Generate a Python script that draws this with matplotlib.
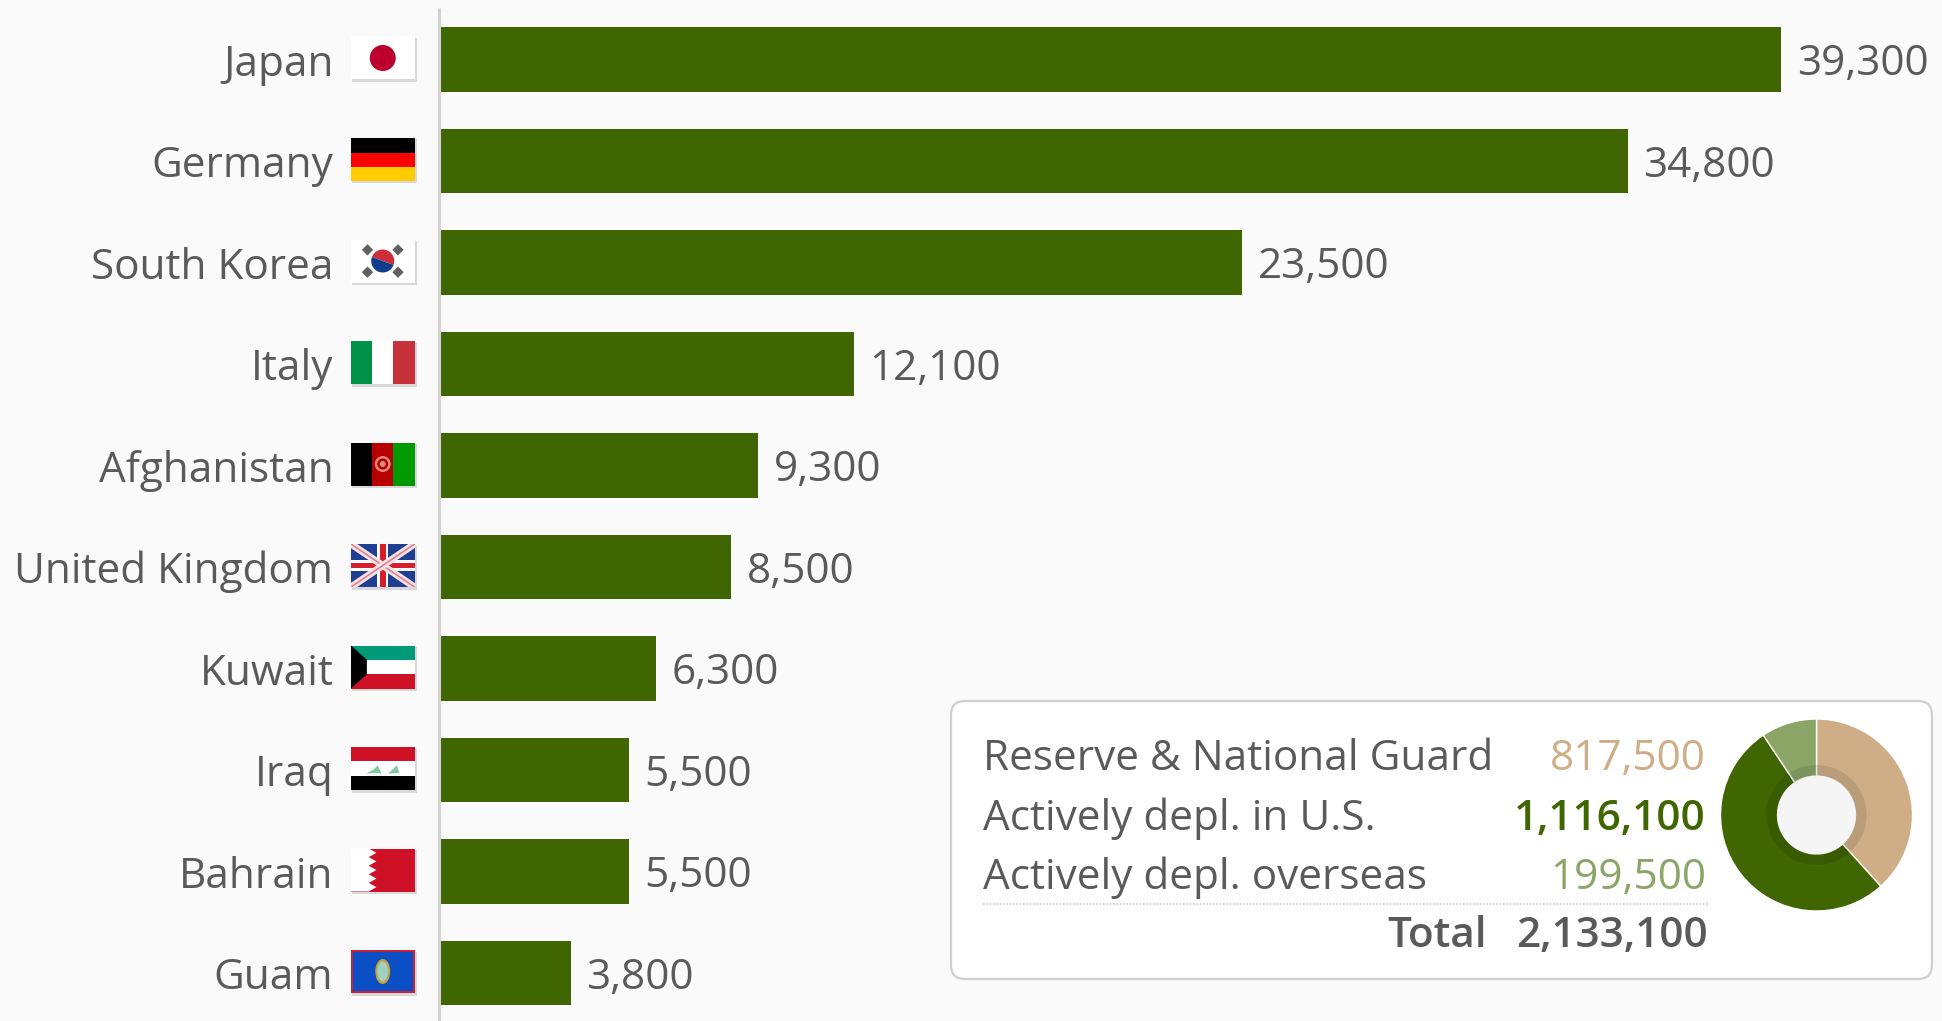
import matplotlib
matplotlib.use("Agg")
from matplotlib import pyplot as plt
from matplotlib.patches import Rectangle, Polygon, Circle, Ellipse, FancyBboxPatch, Wedge

countries = ["Japan", "Germany", "South Korea", "Italy", "Afghanistan",
             "United Kingdom", "Kuwait", "Iraq", "Bahrain", "Guam"]
troops = [39300, 34800, 23500, 12100, 9300, 8500, 6300, 5500, 5500, 3800]

summary_labels = ["Reserve & National Guard", "Actively depl. in U.S.", "Actively depl. overseas"]
summary_values = [817500, 1116100, 199500]
summary_colors = ["#cfae87", "#3f6600", "#8aa566"]
total_label = "Total"
total_value = 2133100

W, H = 1942, 1021
BG = "#fafafa"
GREEN = "#3f6600"
TEXT = "#5a5a5a"
FS = 30.4

plt.rcParams["font.family"] = ["Open Sans", "DejaVu Sans"]

fig = plt.figure(figsize=(W / 100, H / 100), dpi=100, facecolor=BG)

# bars: pixels per soldier and row pitch
left = 441
px_per = 1340 / 39300
pitch = 101.5
first = 59.5
ax = fig.add_axes([left / W, 0, 1 - left / W, 1])
ax.set_facecolor("none")
ypos = list(range(len(countries)))
ax.barh(ypos, troops, height=64.5 / pitch, color=GREEN)
ax.set_xlim(0, (W - left) / px_per)
ax.set_ylim((H - first) / pitch, -first / pitch)
ax.set_xticks([])
ax.set_yticks(ypos, countries)
ax.tick_params(axis="y", length=0, pad=77.5, labelsize=FS, labelcolor=TEXT)
for s in ax.spines.values():
    s.set_visible(False)
for y, v in zip(ypos, troops):
    ax.annotate(f"{v:,}", (v, y), xytext=(11.5, -3.5), textcoords="offset points",
                va="center", ha="left", fontsize=FS, color=TEXT, annotation_clip=False)

# overlay in pixel coordinates for the axis line, flags and the box
ov = fig.add_axes([0, 0, 1, 1])
ov.set_xlim(0, W)
ov.set_ylim(H, 0)
ov.axis("off")
ov.plot([439, 439], [8, H], color="#d2d2d2", lw=2.2, solid_capstyle="butt")


def flag_tools(i):
    x0, y0 = 351, first + pitch * i - 23
    w, h = 63.5, 43
    ov.add_patch(Rectangle((x0 + 1, y0 + 1.5), w + 1, h + 1, color="#d8d8d8", lw=0))

    def rect(u0, v0, u1, v1, c):
        p = Rectangle((x0 + u0 * w, y0 + v0 * h), (u1 - u0) * w, (v1 - v0) * h, color=c, lw=0)
        ov.add_patch(p)
        return p

    def poly(pts, c):
        p = Polygon([(x0 + u * w, y0 + v * h) for u, v in pts], closed=True, color=c, lw=0)
        ov.add_patch(p)
        return p

    def dot(u, v, r, c):
        p = Circle((x0 + u * w, y0 + v * h), r, color=c, lw=0)
        ov.add_patch(p)
        return p

    return rect, poly, dot, (x0, y0, w, h)


# Japan
rect, poly, dot, _ = flag_tools(0)
rect(0, 0, 1, 1, "white")
dot(.5, .5, 13, "#bc002d")

# Germany
rect, poly, dot, _ = flag_tools(1)
rect(0, 0, 1, .34, "black")
rect(0, .34, 1, .67, "#ff0000")
rect(0, .67, 1, 1, "#ffcc00")

# South Korea
rect, poly, dot, box = flag_tools(2)
rect(0, 0, 1, 1, "white")
x0, y0, w, h = box
cx, cy = x0 + w / 2, y0 + h / 2
ov.add_patch(Wedge((cx, cy), 11.5, 200, 20, color="#cd2e3a", lw=0))
ov.add_patch(Wedge((cx, cy), 11.5, 20, 200, color="#0f3f8c", lw=0))
for u, v in [(.26, .24), (.74, .24), (.26, .76), (.74, .76)]:
    px = (x0 + u * w, y0 + v * h)
    ov.add_patch(Rectangle((px[0] - 4, px[1] - 4), 8, 8, angle=45,
                           rotation_point="center", color="#606060", lw=0))

# Italy
rect, poly, dot, _ = flag_tools(3)
rect(0, 0, 1 / 3, 1, "#009246")
rect(1 / 3, 0, 2 / 3, 1, "white")
rect(2 / 3, 0, 1, 1, "#c8303a")

# Afghanistan
rect, poly, dot, _ = flag_tools(4)
rect(0, 0, 1 / 3, 1, "black")
rect(1 / 3, 0, 2 / 3, 1, "#b90000")
rect(2 / 3, 0, 1, 1, "#009900")
dot(.5, .5, 8, "#d98a7c")
dot(.5, .5, 5.5, "#b90000")
dot(.5, .5, 3, "#d98a7c")

# United Kingdom
rect, poly, dot, box = flag_tools(5)
bg = rect(0, 0, 1, 1, "#1f3f93")
x0, y0, w, h = box
for a, b in [((0, 0), (1, 1)), ((0, 1), (1, 0))]:
    xs = [x0 + a[0] * w, x0 + b[0] * w]
    ys = [y0 + a[1] * h, y0 + b[1] * h]
    l1, = ov.plot(xs, ys, color="#f6e4e4", lw=5, solid_capstyle="butt")
    l2, = ov.plot(xs, ys, color="#e08090", lw=1.2, solid_capstyle="butt")
    l1.set_clip_path(bg)
    l2.set_clip_path(bg)
rect(.41, 0, .59, 1, "white")
rect(0, .37, 1, .63, "white")
rect(.455, 0, .545, 1, "#d81e2c")
rect(0, .44, 1, .56, "#d81e2c")

# Kuwait
rect, poly, dot, _ = flag_tools(6)
rect(0, 0, 1, 1 / 3, "#009a78")
rect(0, 1 / 3, 1, 2 / 3, "white")
rect(0, 2 / 3, 1, 1, "#ce1126")
poly([(0, 0), (.25, 1 / 3), (.25, 2 / 3), (0, 1)], "black")

# Iraq
rect, poly, dot, _ = flag_tools(7)
rect(0, 0, 1, 1 / 3, "#ce1126")
rect(0, 1 / 3, 1, 2 / 3, "white")
rect(0, 2 / 3, 1, 1, "black")
poly([(.24, .62), (.38, .6), (.48, .62), (.42, .42), (.36, .52)], "#7fc8a0")
poly([(.58, .62), (.76, .6), (.72, .42), (.66, .52)], "#7fc8a0")

# Bahrain
rect, poly, dot, _ = flag_tools(8)
rect(0, 0, 1, 1, "#ce1126")
teeth = [(0, 0), (.28, 0)]
for k in range(5):
    teeth += [(.4, (k + .5) / 5), (.28, (k + 1) / 5)]
teeth += [(0, 1)]
poly(teeth, "white")

# Guam
rect, poly, dot, box = flag_tools(9)
rect(0, 0, 1, 1, "#c62139")
rect(.03, .05, .97, .95, "#0a4fc4")
x0, y0, w, h = box
ov.add_patch(Ellipse((x0 + w / 2, y0 + h / 2), 15, 25, color="#c8a040", lw=0))
ov.add_patch(Ellipse((x0 + w / 2, y0 + h / 2), 11, 20, color="#9fd0c0", lw=0))

# summary box
ov.add_patch(FancyBboxPatch((963, 713), 957, 254, boxstyle="round,pad=12,rounding_size=14",
                            fc="white", ec="#cfcfcf", lw=1.6))
row_y = [759, 819, 878]
for y, lab, val, col in zip(row_y, summary_labels, summary_values, summary_colors):
    ov.text(983, y, lab, fontsize=FS, color=TEXT, va="center", ha="left")
    ov.text(1706, y, f"{val:,}", fontsize=FS, color=col, va="center", ha="right",
            weight="semibold" if col == GREEN else "normal")
ov.plot([983, 1708], [904, 904], color="#cccccc", lw=1.2, ls=(0, (1, 1)))
ov.text(1487, 936, total_label, fontsize=FS, color=TEXT, va="center", ha="right", weight="semibold")
ov.text(1708, 936, f"{total_value:,}", fontsize=FS, color=TEXT, va="center", ha="right", weight="semibold")

# donut
R = 96
cx, cy = 1816.5, 815
dn = fig.add_axes([(cx - R) / W, 1 - (cy + R) / H, 2 * R / W, 2 * R / H])
dn.pie(summary_values, colors=summary_colors, startangle=90, counterclock=False, radius=1,
       wedgeprops=dict(width=1 - 39 / R, edgecolor="white", linewidth=1))
dn.pie([1], colors=["black"], radius=50 / R,
       wedgeprops=dict(width=11 / R, alpha=.1, linewidth=0))
dn.add_patch(Circle((0, 0), 39 / R, color="#f5f5f5", lw=0, zorder=5))
dn.set_xlim(-1, 1)
dn.set_ylim(-1, 1)

fig.savefig("out.png", dpi=100, facecolor=BG)
